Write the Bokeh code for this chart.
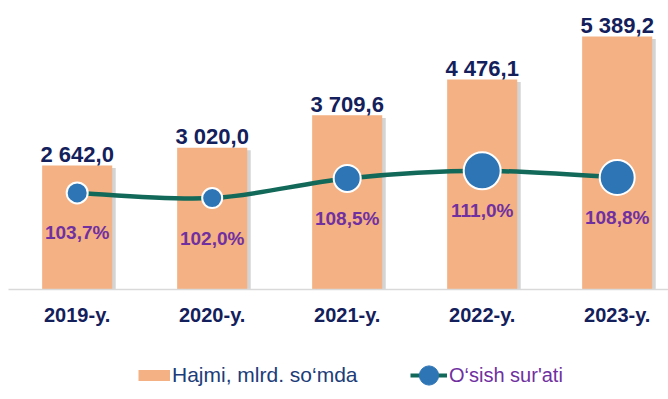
import numpy as np
from bokeh.plotting import figure
from bokeh.models import Range1d, FixedTicker, ColumnDataSource, Legend, LegendItem
from bokeh.transform import dodge
from bokeh.core.properties import value
from bokeh.embed import file_html
from bokeh.resources import INLINE

# ---- data ----
years = ["2019-y.", "2020-y.", "2021-y.", "2022-y.", "2023-y."]
volume = [2642.0, 3020.0, 3709.6, 4476.1, 5389.2]
growth = [103.7, 102.0, 108.5, 111.0, 108.8]
volume_labels = ["2 642,0", "3 020,0", "3 709,6", "4 476,1", "5 389,2"]
growth_labels = ["103,7%", "102,0%", "108,5%", "111,0%", "108,8%"]
series_names = ["Hajmi, mlrd. so\u2018mda", "O\u2018sish sur'ati"]

# ---- style ----
marker_sizes = [21, 20, 27, 37, 35]
NAVY = "#13205B"
LEG_NAVY = "#203C78"
PURPLE = "#7030A0"
ORANGE = "#F4B183"
TEAL = "#12695A"
BLUE = "#2E75B6"
FONT = "Liberation Sans"

xs = list(range(len(years)))
src = ColumnDataSource(dict(x=xs, top=volume, g=growth, vl=volume_labels,
                            gl=growth_labels, ms=marker_sizes))

p = figure(width=668, height=399,
           x_range=Range1d(-0.568, 4.380), y_range=Range1d(-2343.4, 6156.8),
           output_backend="svg", toolbar_location=None, y_axis_location=None,
           min_border_left=0, min_border_right=0, min_border_top=0,
           min_border_bottom=0)
p.extra_y_ranges = {"pct": Range1d(35.29, 167.41)}
p.outline_line_color = None
p.grid.visible = False
p.background_fill_color = "white"

# bar shadow + bars
p.vbar(x=dodge("x", 0.026), top=dodge("top", -55), width=0.519, source=src,
       fill_color="#B0B0B0", fill_alpha=0.55, line_color=None)
p.vbar(x="x", top="top", width=0.519, source=src,
       fill_color=ORANGE, line_color=None)

# smooth growth line (Catmull-Rom -> cubic bezier segments)
gx = np.array(xs, dtype=float)
gy = np.array(growth, dtype=float)
px = np.concatenate([[gx[0]], gx, [gx[-1]]])
py = np.concatenate([[gy[0]], gy, [gy[-1]]])
n = len(gx) - 1
bz = dict(x0=gx[:-1], y0=gy[:-1], x1=gx[1:], y1=gy[1:],
          cx0=px[1:n+1] + (px[2:n+2] - px[0:n]) / 6.0,
          cy0=py[1:n+1] + (py[2:n+2] - py[0:n]) / 6.0,
          cx1=px[2:n+2] - (px[3:n+3] - px[1:n+1]) / 6.0,
          cy1=py[2:n+2] - (py[3:n+3] - py[1:n+1]) / 6.0)
p.bezier(source=ColumnDataSource(bz), x0="x0", y0="y0", x1="x1", y1="y1",
         cx0="cx0", cy0="cy0", cx1="cx1", cy1="cy1",
         line_color=TEAL, line_width=4.5, y_range_name="pct")

p.scatter(x="x", y="g", size="ms", source=src, fill_color=BLUE,
          line_color="white", line_width=2, y_range_name="pct")

# labels
p.text(x="x", y="top", text="vl", source=src, text_align="center",
       text_baseline="alphabetic", y_offset=-11,
       text_font=value(FONT), text_font_size="22px", text_font_style="bold",
       text_color=NAVY)
p.text(x="x", y="g", text="gl", source=src, text_align="center",
       text_baseline="alphabetic", y_offset=40, y_range_name="pct",
       text_font=value(FONT), text_font_size="19px", text_font_style="bold",
       text_color=PURPLE)

# x axis (drawn at value 0, inside the frame)
ax = p.xaxis[0]
ax.fixed_location = 0
ax.bounds = (-0.509, 4.380)
ax.ticker = FixedTicker(ticks=xs)
ax.major_label_overrides = {i: years[i] for i in xs}
ax.axis_line_color = "#D9D9D9"
ax.axis_line_width = 1.5
ax.major_tick_line_color = None
ax.minor_tick_line_color = None
ax.major_label_standoff = 8
ax.major_label_text_font = FONT
ax.major_label_text_font_size = "20px"
ax.major_label_text_font_style = "bold"
ax.major_label_text_color = NAVY

# legend dummies
nan = float("nan")
d_bar = p.line(x=[nan], y=[nan], line_color=ORANGE, line_width=11, line_cap="butt")
d_line = p.line(x=[nan], y=[nan], line_color=TEAL, line_width=4, line_cap="butt")
d_dot = p.ellipse(x=[nan], y=[nan], width=20, height=20,
                  width_units="screen", height_units="screen",
                  fill_color=BLUE, line_color=BLUE, line_width=1)

common = dict(border_line_color=None, background_fill_alpha=0, padding=0,
              margin=0, spacing=0, glyph_height=24, label_standoff=2,
              label_text_font=FONT, label_text_baseline="middle")
leg1 = Legend(items=[LegendItem(label=series_names[0], renderers=[d_bar])],
              location=(138, 12), glyph_width=32, label_text_color=LEG_NAVY,
              label_text_font_size="21px", **common)
leg2 = Legend(items=[LegendItem(label=series_names[1], renderers=[d_line, d_dot])],
              location=(410, 12), glyph_width=37, label_text_color=PURPLE,
              label_text_font_size="20px", **common)
p.add_layout(leg1, "center")
p.add_layout(leg2, "center")

open("out.html", "w").write(file_html(p, INLINE))
